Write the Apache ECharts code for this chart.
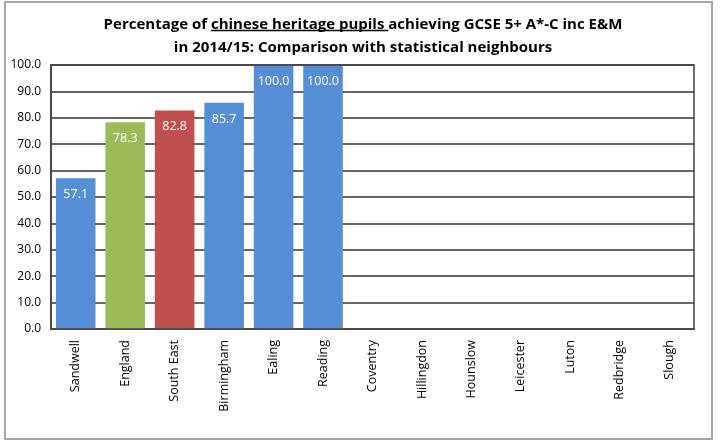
<!DOCTYPE html>
<html><head><meta charset="utf-8">
<script src="https://cdn.jsdelivr.net/npm/echarts@6/dist/echarts.min.js"></script>
<style>html,body{margin:0;padding:0;background:#fff}#c{width:726px;height:443px}</style>
</head><body><div id="c"></div>
<script>
var categories = ['Sandwell','England','South East','Birmingham','Ealing','Reading','Coventry','Hillingdon','Hounslow','Leicester','Luton','Redbridge','Slough'];
var values = [57.1, 78.3, 82.8, 85.7, 100.0, 100.0, null, null, null, null, null, null, null];
var barColors = ['#558ED5','#9BBB59','#C0504D','#558ED5','#558ED5','#558ED5','#558ED5','#558ED5','#558ED5','#558ED5','#558ED5','#558ED5','#558ED5'];
var titlePre = 'Percentage of ';
var titleUnder = 'chinese heritage pupils ';
var titlePost = 'achieving GCSE 5+ A*-C inc E&M';
var titleLine2 = 'in 2014/15: Comparison with statistical neighbours';

var font = 'Open Sans';
var tFont = 'bold 15px "Open Sans"';
var cv = document.createElement('canvas').getContext('2d');
cv.font = tFont;
var wLine1 = cv.measureText(titlePre + titleUnder + titlePost).width;
var wPre = cv.measureText(titlePre).width;
var wUnder = cv.measureText(titleUnder).width;
var x0 = 363 - wLine1 / 2 + wPre;

var chart = echarts.init(document.getElementById('c'));
chart.setOption({
  animation: false,
  title: {
    text: titlePre + titleUnder + titlePost + '\n' + titleLine2,
    left: 'center', top: 8,
    textStyle: {fontFamily: font, fontWeight: 'bold', fontSize: 15, color: '#000', lineHeight: 23}
  },
  grid: {left: 51, right: 32, top: 65, bottom: 114, containLabel: false, show: false},
  xAxis: {
    type: 'category', data: categories,
    axisLine: {lineStyle: {color: '#666', width: 2}},
    axisTick: {show: false},
    axisLabel: {rotate: 90, interval: 0, fontFamily: font, fontSize: 12.5, color: '#000', margin: 11}
  },
  yAxis: {
    type: 'value', min: 0, max: 100, interval: 10,
    axisLine: {show: true, lineStyle: {color: '#666', width: 2}},
    axisTick: {show: false},
    splitLine: {lineStyle: {color: '#666', width: 2}},
    axisLabel: {fontFamily: font, fontSize: 12, color: '#000', margin: 10, formatter: function(v){return v.toFixed(1);}}
  },
  series: [{
    type: 'bar', barCategoryGap: '20%',
    data: values.map(function(v,i){return {value: v, itemStyle: {color: barColors[i]}};}),
    label: {show: true, position: 'insideTop', distance: 10, color: '#fff', fontFamily: font, fontSize: 12.5,
      formatter: function(p){return p.value == null ? '' : p.value.toFixed(1);}}
  }],
  graphic: [
    {type: 'rect', shape: {x: 5, y: 2, width: 707, height: 437}, style: {fill: 'none', stroke: '#a6a6a6', lineWidth: 2}, silent: true},
    {type: 'rect', shape: {x: 51, y: 65, width: 643, height: 264}, style: {fill: 'none', stroke: '#404040', lineWidth: 1.5}, silent: true, z: 10},
    {type: 'line', shape: {x1: x0, y1: 30.5, x2: x0 + wUnder, y2: 30.5}, style: {stroke: '#000', lineWidth: 1.3}, silent: true}
  ]
});
</script></body></html>
